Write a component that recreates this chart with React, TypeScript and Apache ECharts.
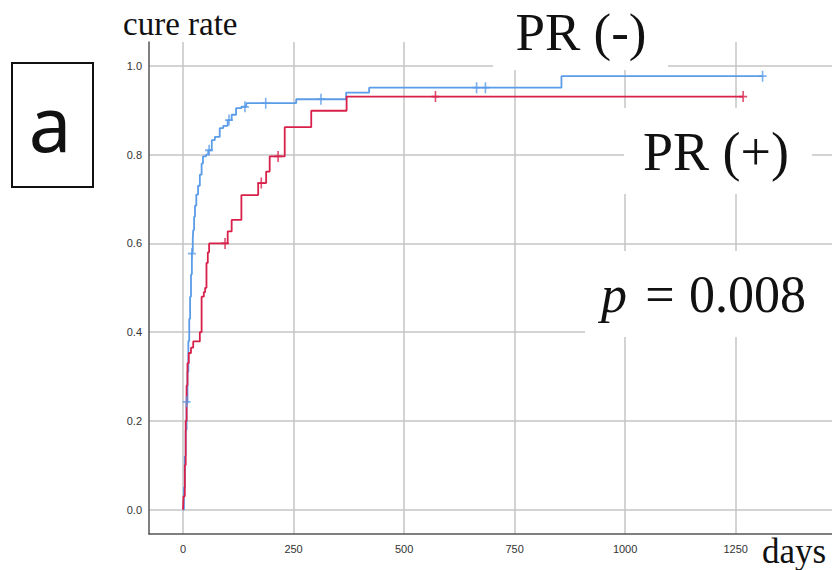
import React, { useEffect, useRef } from "react";
import * as echarts from "echarts";

const xTicks = [0, 250, 500, 750, 1000, 1250];
const yTicks = [0, 0.2, 0.4, 0.6, 0.8, 1.0];

// PR (-) cumulative cure rate: [days, rate]
const prNegCurve: [number, number][] = [
  [0, 0], [2, 0.05], [4, 0.12], [6, 0.18], [8, 0.24], [10, 0.31], [12, 0.38],
  [14, 0.43], [16, 0.48], [18, 0.53], [20, 0.58], [22, 0.61], [23, 0.63],
  [25, 0.66], [27, 0.685], [30, 0.71], [34, 0.73], [38, 0.755], [42, 0.78],
  [45, 0.796], [52, 0.8], [57, 0.81], [65, 0.833], [72, 0.84], [83, 0.86],
  [91, 0.865], [101, 0.878], [110, 0.89], [120, 0.905], [132, 0.908],
  [143, 0.916], [256, 0.925], [369, 0.94], [421, 0.951], [856, 0.977],
  [1311, 0.977],
];
const prNegCensored: [number, number][] = [
  [8, 0.243], [20, 0.577], [59, 0.81], [104, 0.878], [140, 0.908],
  [187, 0.916], [312, 0.925], [664, 0.951], [684, 0.951], [1311, 0.977],
];

// PR (+) cumulative cure rate: [days, rate]
const prPosCurve: [number, number][] = [
  [0, 0], [1, 0.03], [4, 0.1], [6, 0.2], [8, 0.28], [10, 0.33], [13, 0.353],
  [18, 0.365], [23, 0.379], [38, 0.4], [42, 0.48], [47, 0.49], [50, 0.5],
  [53, 0.556], [56, 0.58], [59, 0.6], [101, 0.627], [110, 0.653],
  [132, 0.709], [170, 0.736], [188, 0.762], [196, 0.796], [230, 0.862],
  [290, 0.899], [370, 0.931], [1267, 0.931],
];
const prPosCensored: [number, number][] = [
  [95, 0.6], [177, 0.736], [215, 0.796], [571, 0.931], [1267, 0.931],
];

const BLUE = "#5b9ce8";
const RED = "#d8204a";
const PLUS = "path://M-0.16,-1H0.16V1H-0.16Z M-0.8,-0.16H0.8V0.16H-0.8Z";
const SERIF = "'Liberation Serif', 'Times New Roman', serif";

export default function App() {
  const ref = useRef<HTMLDivElement>(null);
  useEffect(() => {
    const chart = echarts.init(ref.current!, null, { renderer: "svg" });
    chart.setOption({
      animation: false,
      backgroundColor: "#ffffff",
      grid: { left: 149, right: 0, top: 42, bottom: 36 },
      xAxis: {
        type: "value",
        min: -77,
        max: 1468,
        axisLine: { show: true, onZero: false, lineStyle: { color: "#555", width: 1.5 } },
        axisTick: { show: false, customValues: xTicks },
        axisLabel: {
          customValues: xTicks,
          margin: 9,
          fontSize: 11,
          color: "#333",
          fontFamily: "'Liberation Sans', Arial, sans-serif",
          formatter: (v: number) => String(v),
        },
        splitLine: { show: true, lineStyle: { color: "#c4c4c4", width: 1.5 } },
      },
      yAxis: {
        type: "value",
        min: -0.055,
        max: 1.054,
        axisLine: { show: true, onZero: false, lineStyle: { color: "#555", width: 1.5 } },
        axisTick: { show: false, customValues: yTicks },
        axisLabel: {
          customValues: yTicks,
          margin: 7,
          fontSize: 11,
          color: "#333",
          fontFamily: "'Liberation Sans', Arial, sans-serif",
          formatter: (v: number) => v.toFixed(1),
        },
        splitLine: { show: true, lineStyle: { color: "#c4c4c4", width: 1.5 } },
      },
      series: [
        {
          name: "PR (-)",
          type: "line",
          step: "end",
          data: prNegCurve,
          symbol: "none",
          lineStyle: { color: BLUE, width: 1.8 },
          z: 3,
        },
        {
          name: "PR (+)",
          type: "line",
          step: "end",
          data: prPosCurve,
          symbol: "none",
          lineStyle: { color: RED, width: 1.8 },
          z: 4,
        },
        {
          type: "scatter",
          data: prNegCensored,
          symbol: PLUS,
          symbolSize: [8, 11],
          itemStyle: { color: BLUE },
          z: 5,
        },
        {
          type: "scatter",
          data: prPosCensored,
          symbol: PLUS,
          symbolSize: [8, 11],
          itemStyle: { color: RED },
          z: 6,
        },
      ],
      graphic: [
        { type: "rect", z: 10, shape: { x: 493, y: 0, width: 175, height: 70 }, style: { fill: "#fff" } },
        { type: "rect", z: 10, shape: { x: 624, y: 108, width: 188, height: 86 }, style: { fill: "#fff" } },
        { type: "rect", z: 10, shape: { x: 585, y: 251, width: 247, height: 86 }, style: { fill: "#fff" } },
        { type: "rect", z: 10, shape: { x: 12, y: 63, width: 81, height: 124 }, style: { fill: "#fff", stroke: "#111", lineWidth: 2 } },
        {
          type: "text", z: 11, x: 50, y: 122,
          style: { text: "a", font: "76px 'Noto Sans', 'Open Sans', sans-serif", fill: "#111", textAlign: "center", textVerticalAlign: "middle" },
        },
        {
          type: "text", z: 11, x: 123, y: 24,
          style: { text: "cure rate", font: `33px ${SERIF}`, fill: "#111", textAlign: "left", textVerticalAlign: "middle" },
        },
        {
          type: "text", z: 11, x: 762, y: 551,
          style: { text: "days", font: `35px ${SERIF}`, fill: "#111", textAlign: "left", textVerticalAlign: "middle" },
        },
        {
          type: "text", z: 11, x: 581, y: 32,
          style: { text: "PR (-)", font: `53px ${SERIF}`, fill: "#111", textAlign: "center", textVerticalAlign: "middle" },
        },
        {
          type: "text", z: 11, x: 716, y: 152,
          style: { text: "PR (+)", font: `54px ${SERIF}`, fill: "#111", textAlign: "center", textVerticalAlign: "middle" },
        },
        {
          type: "text", z: 11, x: 601, y: 294,
          style: { text: "p", font: `italic 52px ${SERIF}`, fill: "#111", textAlign: "left", textVerticalAlign: "middle" },
        },
        {
          type: "text", z: 11, x: 660, y: 294,
          style: { text: "=", font: `52px ${SERIF}`, fill: "#111", textAlign: "center", textVerticalAlign: "middle" },
        },
        {
          type: "text", z: 11, x: 689, y: 294,
          style: { text: "0.008", font: `52px ${SERIF}`, fill: "#111", textAlign: "left", textVerticalAlign: "middle" },
        },
      ],
    });
    return () => chart.dispose();
  }, []);
  return (
    <div
      ref={ref}
      style={{ position: "absolute", left: 0, top: 0, width: 832, height: 570 }}
    />
  );
}
